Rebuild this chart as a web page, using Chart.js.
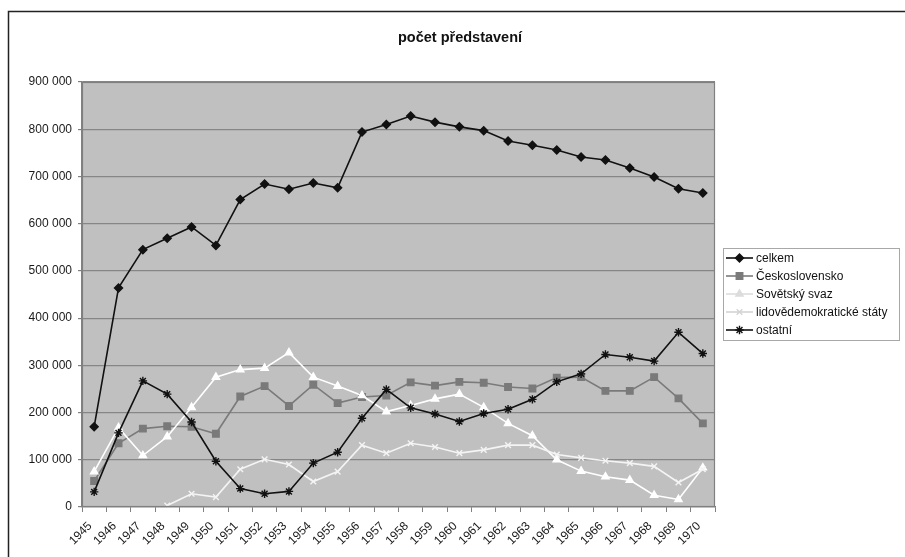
<!DOCTYPE html>
<html>
<head>
<meta charset="utf-8">
<title>počet představení</title>
<script src="https://cdn.jsdelivr.net/npm/chart.js@4.4.1/dist/chart.umd.min.js"></script>
<style>
  html, body { margin: 0; padding: 0; background: #ffffff; }
  #wrap { width: 905px; height: 557px; }
</style>
</head>
<body>
<div id="wrap"><canvas id="c" width="905" height="557"></canvas></div>
<script>
// Years on the category axis
const years = ['1945','1946','1947','1948','1949','1950','1951','1952','1953','1954','1955','1956','1957',
               '1958','1959','1960','1961','1962','1963','1964','1965','1966','1967','1968','1969','1970'];

// Number of performances per year
const celkem = [170000, 464000, 545000, 569000, 593000, 554000, 651000, 684000, 673000, 686000, 676000, 794000, 810000,
                828000, 815000, 805000, 797000, 775000, 766000, 756000, 741000, 735000, 718000, 699000, 674000, 665000];
const ceskoslovensko = [55000, 135000, 166000, 171000, 170000, 155000, 234000, 256000, 214000, 259000, 220000, 233000, 236000,
                        264000, 257000, 265000, 263000, 254000, 251000, 274000, 275000, 246000, 246000, 275000, 230000, 177000];
const sovetskySvaz = [75000, 168000, 109000, 149000, 211000, 275000, 291000, 294000, 327000, 275000, 256000, 236000, 202000,
                      215000, 229000, 239000, 211000, 177000, 151000, 100000, 76000, 64000, 57000, 25000, 16000, 83000];
const lidovedemokraticke = [null, null, null, 3000, 28000, 21000, 80000, 101000, 90000, 54000, 75000, 131000, 114000,
                            135000, 127000, 114000, 121000, 131000, 131000, 111000, 104000, 98000, 93000, 86000, 52000, 80000];
const ostatni = [32000, 157000, 267000, 239000, 180000, 97000, 39000, 28000, 33000, 93000, 116000, 188000, 249000,
                 210000, 197000, 181000, 198000, 207000, 228000, 265000, 282000, 323000, 317000, 309000, 370000, 325000];

const seriesNames = ['celkem', 'Československo', 'Sovětský svaz', 'lidovědemokratické státy', 'ostatní'];
const yTicks = [0, 100000, 200000, 300000, 400000, 500000, 600000, 700000, 800000, 900000];

const FONT = '"Liberation Sans", Arial, sans-serif';

function fmt(v) {
  return String(v).replace(/\B(?=(\d{3})+(?!\d))/g, ' ');
}

function series(label, data, color, style, radius, fill, legendColor, order) {
  return {
    label, data, order,
    borderColor: color,
    borderWidth: 1.6,
    pointStyle: style,
    pointRadius: radius,
    pointHoverRadius: radius,
    pointBackgroundColor: fill,
    pointBorderColor: color,
    pointBorderWidth: 1.4,
    tension: 0,
    spanGaps: false,
    legendColor
  };
}

const datasets = [
  series(seriesNames[0], celkem, '#111111', 'rectRot', 4, '#111111', '#111111', 5),
  series(seriesNames[1], ceskoslovensko, '#7a7a7a', 'rect', 4.6, '#7a7a7a', '#7a7a7a', 4),
  series(seriesNames[2], sovetskySvaz, '#ffffff', 'triangle', 4.2, '#ffffff', '#dcdcdc', 3),
  series(seriesNames[3], lidovedemokraticke, '#f4f4f4', 'crossRot', 4, '#f4f4f4', '#d4d4d4', 2),
  series(seriesNames[4], ostatni, '#111111', 'star', 4.2, '#111111', '#111111', 1)
];

// Drawing point markers in the legend
function marker(ctx, ds, x, y) {
  const h = (window.Chart && Chart.helpers) || {};
  ctx.save();
  ctx.fillStyle = ds.legendColor;
  ctx.strokeStyle = ds.legendColor;
  ctx.lineWidth = ds.pointBorderWidth;
  if (h.drawPoint) {
    h.drawPoint(ctx, { pointStyle: ds.pointStyle, radius: ds.pointRadius, rotation: 0, borderWidth: ds.pointBorderWidth }, x, y);
  }
  ctx.restore();
}

const frame = {
  id: 'frame',
  beforeDraw(chart) {
    const { ctx, chartArea: a } = chart;
    ctx.save();
    ctx.fillStyle = '#ffffff';
    ctx.fillRect(0, 0, chart.width, chart.height);
    ctx.fillStyle = '#c0c0c0';
    ctx.fillRect(a.left, a.top, a.right - a.left, a.bottom - a.top);
    ctx.restore();
  },
  afterDraw(chart) {
    const { ctx, chartArea: a } = chart;
    ctx.save();
    // plot area outline
    ctx.strokeStyle = '#808080';
    ctx.lineWidth = 1.2;
    ctx.strokeRect(a.left + 0.5, a.top + 0.5, a.right - a.left - 1, a.bottom - a.top - 1);
    // outer chart border
    ctx.strokeStyle = '#222222';
    ctx.lineWidth = 1.5;
    ctx.strokeRect(8.5, 11.5, 1200, 1200);
    // title
    ctx.fillStyle = '#111111';
    ctx.font = 'bold 14.5px ' + FONT;
    ctx.textAlign = 'center';
    ctx.textBaseline = 'middle';
    ctx.fillText('počet představení', 460, 38);
    // legend
    const lx = 723, ly = 248, lw = 176, lh = 92;
    ctx.fillStyle = '#ffffff';
    ctx.fillRect(lx, ly, lw, lh);
    ctx.strokeStyle = '#a8a8a8';
    ctx.lineWidth = 1;
    ctx.strokeRect(lx + 0.5, ly + 0.5, lw, lh);
    ctx.font = '12px ' + FONT;
    ctx.textAlign = 'left';
    ctx.textBaseline = 'middle';
    chart.data.datasets.forEach((ds, i) => {
      const y = 258 + i * 18;
      ctx.strokeStyle = ds.legendColor;
      ctx.lineWidth = 1.6;
      ctx.beginPath();
      ctx.moveTo(726, y);
      ctx.lineTo(753, y);
      ctx.stroke();
      marker(ctx, ds, 739.5, y);
      ctx.fillStyle = '#111111';
      ctx.fillText(ds.label, 756, y + 0.5);
    });
    ctx.restore();
  }
};

new Chart(document.getElementById('c'), {
  type: 'line',
  data: { labels: years, datasets },
  options: {
    responsive: false,
    animation: false,
    devicePixelRatio: 1,
    layout: { padding: { top: 82, right: 190, left: 0, bottom: 0 } },
    plugins: {
      legend: { display: false },
      title: { display: false },
      tooltip: { enabled: false }
    },
    scales: {
      x: {
        type: 'category',
        offset: true,
        grid: { display: true, drawOnChartArea: false, drawTicks: true, tickLength: 5, offset: true, color: '#808080' },
        border: { display: true, color: '#808080', width: 1.2 },
        ticks: {
          autoSkip: false, minRotation: 45, maxRotation: 45, padding: 7, labelOffset: -4,
          color: '#1a1a1a', font: { family: FONT, size: 12 }
        },
        afterFit(scale) { scale.height = 50; }
      },
      y: {
        min: 0, max: 900000,
        afterBuildTicks(scale) { scale.ticks = yTicks.map(v => ({ value: v })); },
        grid: { color: '#868686', lineWidth: 1.2, tickLength: 4, tickColor: '#808080' },
        border: { display: true, color: '#808080', width: 1.2 },
        ticks: {
          padding: 6, color: '#1a1a1a', font: { family: FONT, size: 12 },
          callback: v => fmt(v)
        },
        afterFit(scale) { scale.width = 82; }
      }
    }
  },
  plugins: [frame]
});
</script>
</body>
</html>
